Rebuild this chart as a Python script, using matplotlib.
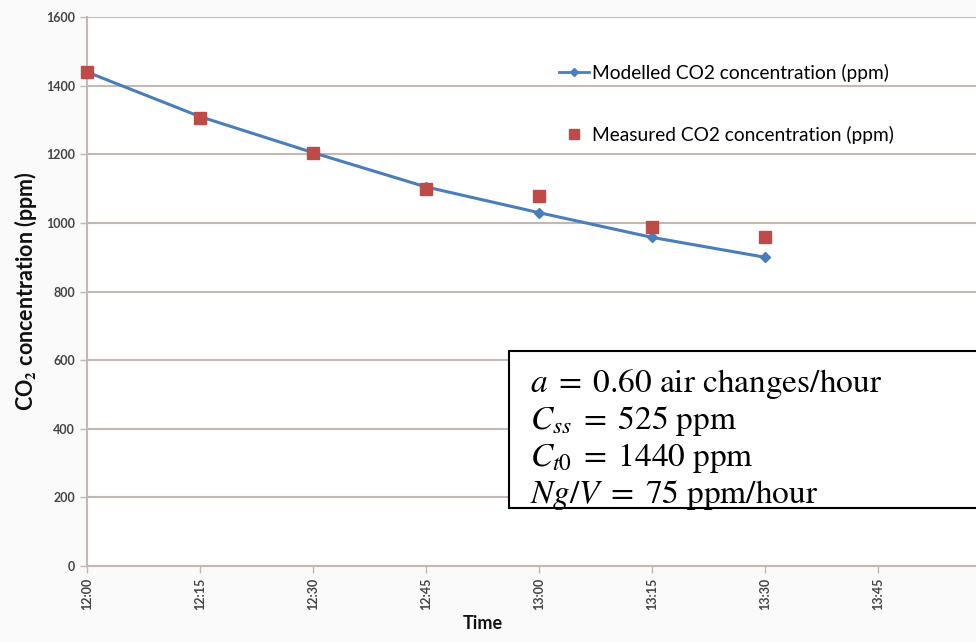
import matplotlib
matplotlib.use('Agg')
import matplotlib.pyplot as plt
from matplotlib.lines import Line2D
from matplotlib.patches import Rectangle

# 时间轴 (每 15 分钟一个刻度)
time_labels = ['12:00', '12:15', '12:30', '12:45', '13:00', '13:15', '13:30', '13:45']
minutes = [0, 15, 30, 45, 60, 75, 90, 105]

# CO2 浓度 (ppm)
modelled = [1440, 1310, 1205, 1105, 1030, 958, 900]
measured = [1440, 1305, 1205, 1100, 1078, 988, 960]

# 参数说明
param_lines = [
    r'$a\;=\;0.60\ \mathrm{air\ changes/hour}$',
    r'$C_{ss}\;=\;525\ \mathrm{ppm}$',
    r'$C_{t0}\;=\;1440\ \mathrm{ppm}$',
    r'$Ng/V\;=\;75\ \mathrm{ppm/hour}$',
]

plt.rcParams['font.family'] = ['Lato', 'DejaVu Sans']
plt.rcParams['mathtext.fontset'] = 'stix'

grid_color = '#c2b8b4'
blue = '#4a7ebb'
red = '#be4b48'

fig = plt.figure(figsize=(9.76, 6.42), dpi=100, facecolor='#fafafa')
ax = fig.add_axes([0.0891, 0.1184, 0.9109, 0.855])
ax.set_facecolor('white')

n = len(modelled)
ax.plot(minutes[:n], modelled, color=blue, linewidth=2.2, marker='D', markersize=5,
        label='Modelled CO2 concentration (ppm)', zorder=3, clip_on=False)
ax.plot(minutes[:n], measured, linestyle='none', color=red, marker='s', markersize=8,
        label='Measured CO2 concentration (ppm)', zorder=4, clip_on=False)

ax.set_ylim(0, 1600)
ax.set_yticks(range(0, 1601, 200))
ax.set_xlim(0, 7.87 * 15)
ax.set_xticks(minutes)
ax.set_xticklabels(time_labels, rotation=90)

ax.grid(axis='y', color=grid_color, linewidth=1.5)
ax.set_axisbelow(True)
for side in ['top', 'right']:
    ax.spines[side].set_visible(False)
for side in ['left', 'bottom']:
    ax.spines[side].set_color(grid_color)
    ax.spines[side].set_linewidth(1.5)

ax.tick_params(axis='both', colors=grid_color, labelcolor='#454545', labelsize=9,
               length=5, width=1)
for lbl in ax.get_xticklabels() + ax.get_yticklabels():
    lbl.set_fontweight('bold')

ax.set_ylabel('CO$_\\mathbf{2}$ concentration (ppm)', fontsize=15.5, fontweight='bold',
              color='#111111')
ax.yaxis.set_label_coords(-0.054, 0.5)
ax.set_xlabel('Time', fontsize=13, fontweight='bold', color='#111111')
ax.xaxis.set_label_coords((483 - 87) / 889, -0.09)

# 图例
handles = [
    Line2D([], [], color=blue, linewidth=2, marker='D', markersize=4),
    Line2D([], [], color=red, linestyle='none', marker='s', markersize=7),
]
ax.legend(handles, ['Modelled CO2 concentration (ppm)', 'Measured CO2 concentration (ppm)'],
          loc='upper left', bbox_to_anchor=(549 / 976, 1 - 54 / 642),
          bbox_transform=fig.transFigure, frameon=False, fontsize=13.8,
          handlelength=1.6, handletextpad=0.15, labelspacing=2.3, borderpad=0)

# 参数文本框
x0, y_top, y_bot = 509 / 976, 1 - 351 / 642, 1 - 508 / 642
fig.patches.append(Rectangle((x0, y_bot), 1.0 - x0 + 0.01, y_top - y_bot,
                             transform=fig.transFigure, facecolor='white',
                             edgecolor='black', linewidth=1.5, zorder=5))
for i, line in enumerate(param_lines):
    fig.text(530 / 976, 1 - (392 + 37 * i) / 642, line, fontsize=24,
             ha='left', va='baseline', zorder=6)

fig.savefig('out.png', dpi=100, facecolor=fig.get_facecolor())
